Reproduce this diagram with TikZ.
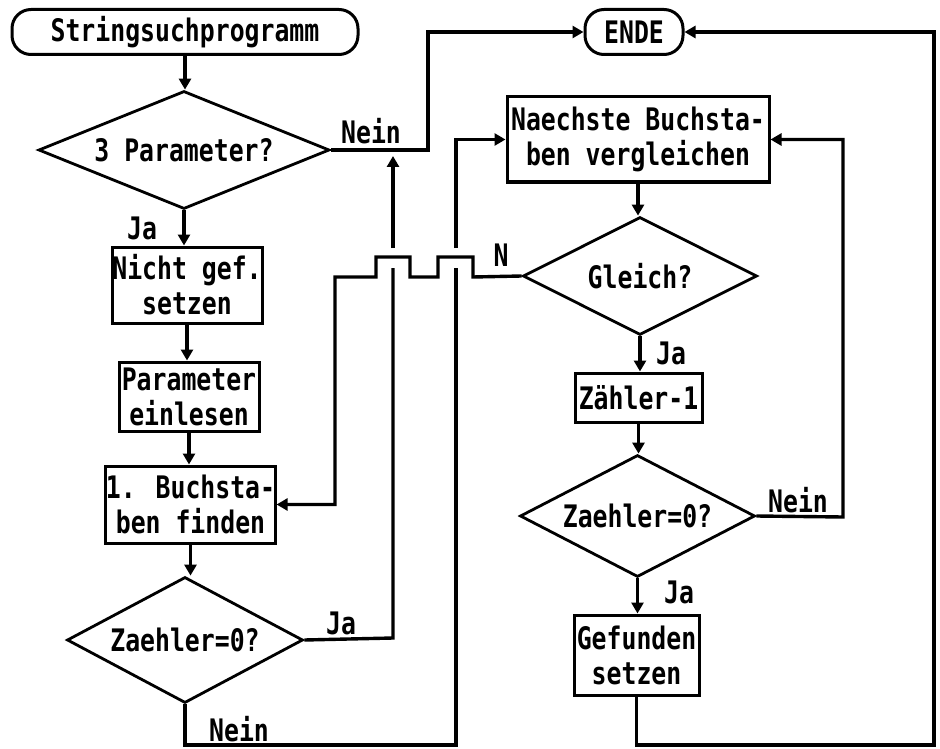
\documentclass[tikz,border=0pt]{standalone}
\usepackage{fontspec}
\newfontfamily\pixfont[FakeStretch=0.8]{DejaVu Sans Mono}
\usetikzlibrary{arrows.meta,shapes.geometric}
\tikzset{
  box/.style={draw, line width=3pt, rectangle, inner sep=0pt, align=center},
  term/.style={draw, line width=3pt, rectangle, rounded corners=19pt, inner sep=0pt},
  dec/.style={draw, line width=2.8pt, diamond, inner sep=0pt},
  lbl/.style={inner sep=0pt},
  con/.style={line width=3.4pt},
  arr/.style={con, -{Triangle[length=11pt,width=12pt]}}
}
\begin{document}
\begin{tikzpicture}[x=1pt,y=-1pt,
  every node/.append style={font=\pixfont\bfseries\fontsize{31}{35}\selectfont}]
\fill[white] (0,0) rectangle (940,749);
\useasboundingbox (0,0) rectangle (940,749);

% nodes
\node[term, minimum width=346pt, minimum height=45pt] (start) at (185,32) {Stringsuchprogramm};
\node[term, minimum width=98pt, minimum height=45pt] (ende) at (634,32) {ENDE};
\node[dec, aspect=2.47, minimum width=291pt, minimum height=118pt] (d1) at (184,150) {3 Parameter?};
\node[box, minimum width=150pt, minimum height=76pt] (nicht) at (187,285) {Nicht gef.\\setzen};
\node[box, minimum width=140pt, minimum height=69pt] (param) at (189,396.5) {Parameter\\einlesen};
\node[box, minimum width=169pt, minimum height=77pt] (buch) at (190.5,504.5) {1. Buchsta-\\ben finden};
\node[dec, aspect=1.87, minimum width=236pt, minimum height=126pt] (d2) at (185,640) {Zaehler=0?};
\node[box, minimum width=262pt, minimum height=85pt] (naech) at (638,139.5) {Naechste Buchsta-\\ben vergleichen};
\node[dec, aspect=1.98, minimum width=234pt, minimum height=118pt] (gleich) at (640,276) {Gleich?};
\node[box, minimum width=127pt, minimum height=49pt] (z1) at (638.5,397.5) {Zähler-1};
\node[dec, aspect=1.93, minimum width=235pt, minimum height=122pt] (d3) at (637.5,516) {Zaehler=0?};
\node[box, minimum width=125pt, minimum height=80pt] (gef) at (636.5,655) {Gefunden\\setzen};

% labels
\node[lbl] (l1) at (371,131) {Nein};
\node[lbl] (l2) at (142,228) {Ja};
\node[lbl] (l3) at (501,255) {N};
\node[lbl] (l4) at (671,353) {Ja};
\node[lbl] (l5) at (798,500) {Nein};
\node[lbl] (l6) at (679,592) {Ja};
\node[lbl] (l7) at (341,623) {Ja};
\node[lbl] (l8) at (239,729) {Nein};

% helper coordinates
\coordinate (c1) at (428,150);
\coordinate (ja1) at (393,638);
\coordinate (ja1g) at (393,268);
\coordinate (ja1h) at (393,248);
\coordinate (ja1e) at (393,156);
\coordinate (nb1) at (d2.south |- 0,745);
\coordinate (nb2) at (456,745);
\coordinate (nb2g) at (456,268);
\coordinate (nb2h) at (456,248);
\coordinate (nb3) at (456,140);
\coordinate (r1) at (843,517);
\coordinate (g1) at (gef.south |- 0,745);
\coordinate (g2) at (934,745);
\coordinate (lp) at (335,277);

% left column
\draw[arr] (start.south) -- (start.south |- d1.north);
\draw[arr] (d1.south) -- (d1.south |- nicht.north);
\draw[arr] (nicht.south) -- (nicht.south |- param.north);
\draw[arr] (param.south) -- (param.south |- buch.north);
\draw[arr] (buch.south) -- (buch.south |- d2.north);

% 3 Parameter? -- Nein -> ENDE
\draw[arr] (d1.east) -- (c1) |- (ende.west);

% Zaehler=0? (left) -- Ja -> up
\draw[con] (d2.east) -- (ja1) -- (ja1g);
\draw[arr] (ja1h) -- (ja1e);

% Zaehler=0? (left) -- Nein -> Naechste
\draw[con] (d2.south) -- (nb1) -- (nb2) -- (nb2g);
\draw[arr] (nb2h) -- (nb3) -- (nb3 |- naech.west) -- (naech.west);

% Gleich? -- N -> 1. Buchstaben (with hops)
\draw[arr] (gleich.west) -- (473,277) -- (473,257) -- (438,257) -- (438,277)
  -- (410,277) -- (410,257) -- (376,257) -- (376,277) -- (lp) |- (buch.east);

% right column
\draw[arr] (naech.south) -- (naech.south |- gleich.north);
\draw[arr] (gleich.south) -- (gleich.south |- z1.north);
\draw[arr] (z1.south) -- (z1.south |- d3.north);
\draw[arr] (d3.south) -- (d3.south |- gef.north);

% Zaehler=0? (right) -- Nein -> Naechste
\draw[arr] (d3.east) -- (r1) |- (naech.east);

% Gefunden -> ENDE
\draw[arr] (gef.south) -- (g1) -- (g2) |- (ende.east);
\end{tikzpicture}
\end{document}
